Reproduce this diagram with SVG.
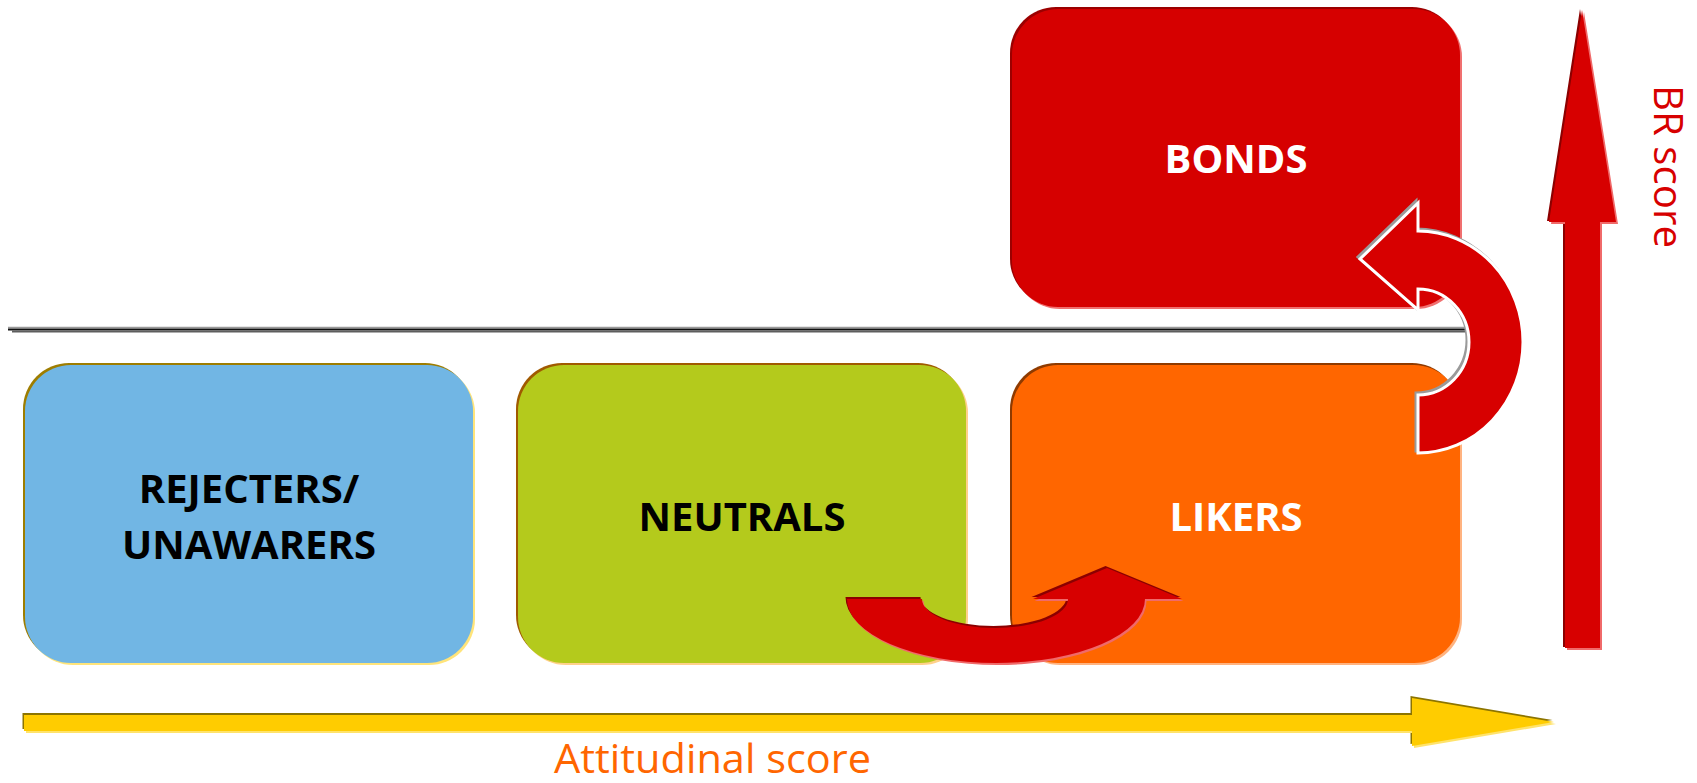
<svg xmlns="http://www.w3.org/2000/svg" xmlns:xlink="http://www.w3.org/1999/xlink" width="1697" height="783" viewBox="0 0 1697 783">
  <style>
    .lbl{font-family:"Open Sans","Liberation Sans",sans-serif;font-weight:700;font-size:40px;text-anchor:middle}
    .ink{fill:#000}
    .paper{fill:#fff}
    .axis{font-family:"Open Sans","Liberation Sans",sans-serif;font-size:40px}
    .red{fill:#D70000}
    .red-dark{fill:#8B0000}
    .red-light{fill:#F06A6A}
  </style>
  <defs>
    <!-- shared segment box -->
    <rect id="box" width="448" height="298" rx="46"/>
    <!-- axis arrows -->
    <path id="upArrow" d="M1582,10 L1616,222 H1600 V648 H1565 V222 H1549 Z"/>
    <path id="rightArrow" d="M24,715 H1412 V698 L1554,722 L1412,746 V731 H24 Z"/>
    <!-- curved transitions -->
    <path id="uturn" d="M847,599 H922 A73,29 0 0 0 1068,599 H1033 L1107,568 L1182,599 H1145 A149,64 0 0 1 847,599 Z"/>
    <path id="loop" d="M1418,453 A105,111 0 0 0 1418,231 V203 L1360,259 L1418,310 V289 A51,53 0 0 1 1418,395 Z"/>
  </defs>

  <rect width="1697" height="783" fill="#fff"/>

  <g id="rejecters" transform="translate(25,365)">
    <use xlink:href="#box" href="#box" x="-2" y="-2" fill="#9E7D00"/>
    <use xlink:href="#box" href="#box" x="2" y="2" fill="#FFE47A"/>
    <use xlink:href="#box" href="#box" fill="#71B6E4"/>
    <text class="lbl ink" x="224" y="138">REJECTERS/</text>
    <text class="lbl ink" x="224" y="194">UNAWARERS</text>
  </g>

  <g id="neutrals" transform="translate(518,365)">
    <use xlink:href="#box" href="#box" x="-2" y="-2" fill="#A05A00"/>
    <use xlink:href="#box" href="#box" x="2" y="2" fill="#FFD08A"/>
    <use xlink:href="#box" href="#box" fill="#B4CA1C"/>
    <text class="lbl ink" x="224" y="166">NEUTRALS</text>
  </g>

  <g id="likers" transform="translate(1012,365)">
    <use xlink:href="#box" href="#box" x="-2" y="-2" fill="#8E3A00"/>
    <use xlink:href="#box" href="#box" x="2" y="2" fill="#FFB380"/>
    <use xlink:href="#box" href="#box" fill="#FF6600"/>
    <text class="lbl paper" x="224" y="166">LIKERS</text>
  </g>

  <g id="bonds" transform="translate(1012,9)">
    <use xlink:href="#box" href="#box" x="-2" y="-2" fill="#9B0000"/>
    <use xlink:href="#box" href="#box" x="2" y="2" fill="#F07070"/>
    <use xlink:href="#box" href="#box" fill="#D60000"/>
    <text class="lbl paper" x="224" y="164">BONDS</text>
  </g>

  <!-- divider between attitudinal and behavioural levels -->
  <g id="divider">
    <line x1="8" y1="327.5" x2="1465" y2="327.5" stroke="#9A9A9A" stroke-width="1.5"/>
    <line x1="8" y1="329.5" x2="1465" y2="329.5" stroke="#111" stroke-width="2"/>
    <line x1="12" y1="331.5" x2="1467" y2="331.5" stroke="#5E5E5E" stroke-width="2"/>
  </g>

  <g id="connectors">
    <!-- BR score axis -->
    <use xlink:href="#upArrow" href="#upArrow" class="red-dark" transform="translate(-2,-1)"/>
    <use xlink:href="#upArrow" href="#upArrow" class="red-light" transform="translate(2,2)"/>
    <use xlink:href="#upArrow" href="#upArrow" class="red"/>

    <!-- attitudinal score axis -->
    <use xlink:href="#rightArrow" href="#rightArrow" fill="#8C7400" transform="translate(-1.5,-2)"/>
    <use xlink:href="#rightArrow" href="#rightArrow" fill="#FFE36B" transform="translate(2,2)"/>
    <use xlink:href="#rightArrow" href="#rightArrow" fill="#FFCC00"/>

    <!-- neutrals to likers -->
    <use xlink:href="#uturn" href="#uturn" class="red-dark" transform="translate(-1.5,-2)"/>
    <use xlink:href="#uturn" href="#uturn" class="red-light" transform="translate(1.5,2)"/>
    <use xlink:href="#uturn" href="#uturn" class="red"/>

    <!-- likers to bonds -->
    <use xlink:href="#loop" href="#loop" fill="#9A9A9A" stroke="#9A9A9A" stroke-width="3" transform="translate(-2,-2)"/>
    <use xlink:href="#loop" href="#loop" fill="#D70000" stroke="#fff" stroke-width="3" stroke-linejoin="miter"/>
  </g>

  <g id="axis-labels">
    <text class="axis" x="554" y="773" fill="#FF6600" textLength="317" lengthAdjust="spacingAndGlyphs">Attitudinal score</text>
    <text class="axis" transform="translate(1654,85) rotate(90)" font-size="35" fill="#D70000" textLength="163" lengthAdjust="spacingAndGlyphs">BR score</text>
  </g>
</svg>
